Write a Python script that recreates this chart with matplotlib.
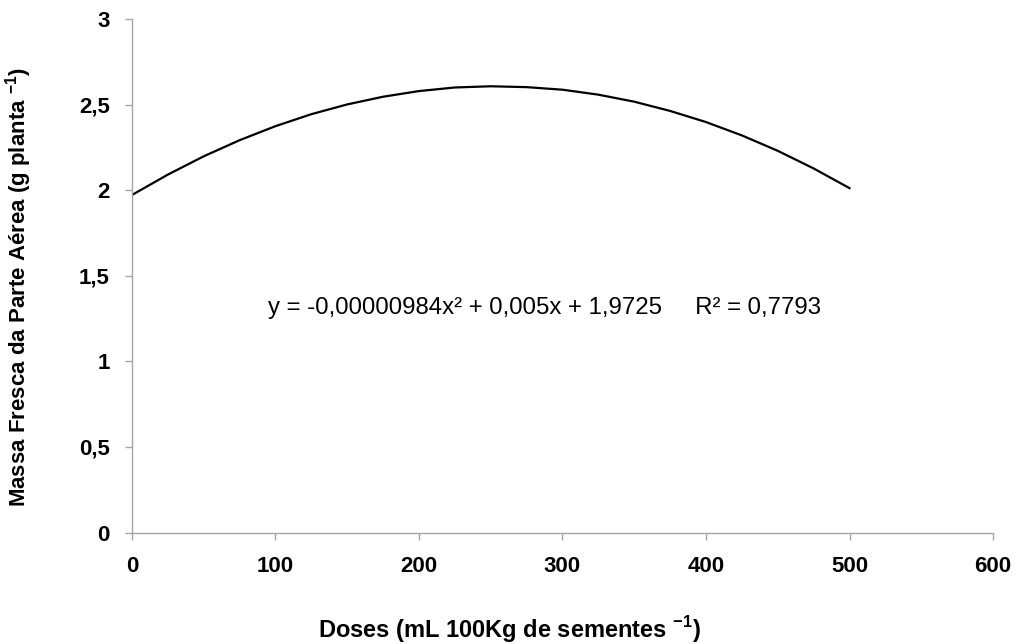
import matplotlib
matplotlib.use('Agg')
import matplotlib.pyplot as plt
from matplotlib.ticker import FuncFormatter

plt.rcParams['font.family'] = ['Liberation Sans', 'DejaVu Sans']
plt.rcParams['mathtext.fontset'] = 'custom'
plt.rcParams['mathtext.rm'] = 'Liberation Sans'
plt.rcParams['mathtext.bf'] = 'Liberation Sans:bold'

# Fitted curve
doses = [0, 25, 50, 75, 100, 125, 150, 175, 200, 225, 250,
         275, 300, 325, 350, 375, 400, 425, 450, 475, 500]
massa = [1.972, 2.091, 2.198, 2.292, 2.374, 2.444, 2.501, 2.546, 2.579,
         2.600, 2.607, 2.602, 2.587, 2.558, 2.517, 2.463, 2.398, 2.320,
         2.230, 2.127, 2.012]

x_ticks = [0, 100, 200, 300, 400, 500, 600]
y_ticks = [0, 0.5, 1, 1.5, 2, 2.5, 3]

equation = 'y = -0,00000984x² + 0,005x + 1,9725     R² = 0,7793'

axis_grey = '#A6A6A6'

fig = plt.figure(figsize=(10.19, 6.44), dpi=100)
fig.patch.set_facecolor('white')
ax = fig.add_axes([0.1295, 0.173, 0.845, 0.7975])

ax.plot(doses, massa, color='black', linewidth=1.6)

ax.set_xlim(0, 600)
ax.set_ylim(0, 3)
ax.set_xticks(x_ticks)
ax.set_yticks(y_ticks)
ax.yaxis.set_major_formatter(FuncFormatter(lambda v, p: f'{v:g}'.replace('.', ',')))

for s in ['top', 'right']:
    ax.spines[s].set_visible(False)
for s in ['left', 'bottom']:
    ax.spines[s].set_color(axis_grey)
    ax.spines[s].set_linewidth(1.0)

ax.tick_params(axis='both', direction='out', length=5, width=1.0,
               color=axis_grey, labelsize=16)
ax.tick_params(axis='x', pad=12)
ax.tick_params(axis='y', pad=11)
for lbl in ax.get_xticklabels() + ax.get_yticklabels():
    lbl.set_fontweight('bold')

ax.text(95, 1.312, equation, fontsize=17.3, ha='left', va='center')

fig.text(0.018, 0.554, r'Massa Fresca da Parte Aérea (g planta $^{\mathbf{-1}}$)',
         rotation=90, ha='center', va='center', fontsize=16, fontweight='bold')
fig.text(0.50, 0.022, r'Doses (mL 100Kg de sementes $^{\mathbf{-1}}$)',
         ha='center', va='center', fontsize=17, fontweight='bold')

fig.savefig('out.png', dpi=100, facecolor='white')
